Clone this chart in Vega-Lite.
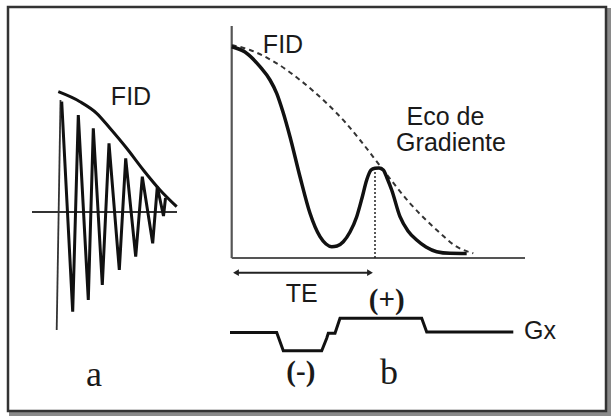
{
  "$schema": "https://vega.github.io/schema/vega-lite/v6.json",
  "width": 611,
  "height": 418,
  "padding": 0,
  "autosize": {"type": "fit", "contains": "padding"},
  "background": "white",
  "config": {"view": {"stroke": null}},
  "datasets": {
    "boxes": [
      {"k": "shadow", "x": 11, "y": 10, "x2": 609, "y2": 414},
      {"k": "frame", "x": 8, "y": 7, "x2": 606, "y2": 411}
    ],
    "rules": [
      {"k": "axisA", "x": 32, "y": 212, "x2": 177, "y2": 212},
      {"k": "thin", "x": 56.7, "y": 330, "x2": 60.5, "y2": 100},
      {"k": "axisB", "x": 231.7, "y": 26, "x2": 231.7, "y2": 258},
      {"k": "axisB", "x": 231.7, "y": 258, "x2": 525, "y2": 258},
      {"k": "dot", "x": 375, "y": 168, "x2": 375, "y2": 258},
      {"k": "arrow", "x": 237, "y": 272.7, "x2": 369, "y2": 272.7}
    ],
    "heads": [
      {"k": "left", "x": 236, "y": 272.7},
      {"k": "right", "x": 370, "y": 272.7}
    ],
    "lines": [
      {"s": "saw", "o": 1, "x": 61.7, "y": 101.7},
      {"s": "saw", "o": 2, "x": 72.7, "y": 311.7},
      {"s": "saw", "o": 3, "x": 78.3, "y": 115},
      {"s": "saw", "o": 4, "x": 88.3, "y": 300},
      {"s": "saw", "o": 5, "x": 93.3, "y": 128.3},
      {"s": "saw", "o": 6, "x": 102.3, "y": 285},
      {"s": "saw", "o": 7, "x": 109, "y": 143.3},
      {"s": "saw", "o": 8, "x": 119.3, "y": 270},
      {"s": "saw", "o": 9, "x": 125.7, "y": 158.3},
      {"s": "saw", "o": 10, "x": 135.7, "y": 256.7},
      {"s": "saw", "o": 11, "x": 142.3, "y": 176.7},
      {"s": "saw", "o": 12, "x": 152.7, "y": 243.3},
      {"s": "saw", "o": 13, "x": 157.3, "y": 186.7},
      {"s": "saw", "o": 14, "x": 163.5, "y": 216},
      {"s": "saw", "o": 15, "x": 165.5, "y": 198},
      {"s": "envA", "o": 1, "x": 58.3, "y": 91.7},
      {"s": "envA", "o": 2, "x": 80, "y": 101.7},
      {"s": "envA", "o": 3, "x": 96.7, "y": 113.3},
      {"s": "envA", "o": 4, "x": 110, "y": 128.3},
      {"s": "envA", "o": 5, "x": 126.7, "y": 148.3},
      {"s": "envA", "o": 6, "x": 143.3, "y": 170},
      {"s": "envA", "o": 7, "x": 160, "y": 190},
      {"s": "envA", "o": 8, "x": 176.7, "y": 206.7},
      {"s": "echo", "o": 1, "x": 231.7, "y": 46.7},
      {"s": "echo", "o": 2, "x": 245, "y": 52},
      {"s": "echo", "o": 3, "x": 260, "y": 66.7},
      {"s": "echo", "o": 4, "x": 270, "y": 80},
      {"s": "echo", "o": 5, "x": 276.7, "y": 93.3},
      {"s": "echo", "o": 6, "x": 283, "y": 112},
      {"s": "echo", "o": 7, "x": 290, "y": 136.7},
      {"s": "echo", "o": 8, "x": 300, "y": 176.7},
      {"s": "echo", "o": 9, "x": 310, "y": 213.3},
      {"s": "echo", "o": 10, "x": 320, "y": 236.7},
      {"s": "echo", "o": 11, "x": 326, "y": 244},
      {"s": "echo", "o": 12, "x": 331.7, "y": 246.7},
      {"s": "echo", "o": 13, "x": 337, "y": 246},
      {"s": "echo", "o": 14, "x": 343.3, "y": 241.7},
      {"s": "echo", "o": 15, "x": 350, "y": 232},
      {"s": "echo", "o": 16, "x": 356.7, "y": 216.7},
      {"s": "echo", "o": 17, "x": 362, "y": 198},
      {"s": "echo", "o": 18, "x": 366.7, "y": 180},
      {"s": "echo", "o": 19, "x": 371, "y": 170},
      {"s": "echo", "o": 20, "x": 375, "y": 168.3},
      {"s": "echo", "o": 21, "x": 379, "y": 168},
      {"s": "echo", "o": 22, "x": 383.3, "y": 170},
      {"s": "echo", "o": 23, "x": 387, "y": 178},
      {"s": "echo", "o": 24, "x": 391.7, "y": 190},
      {"s": "echo", "o": 25, "x": 400, "y": 216.7},
      {"s": "echo", "o": 26, "x": 408, "y": 231},
      {"s": "echo", "o": 27, "x": 416.7, "y": 240},
      {"s": "echo", "o": 28, "x": 426, "y": 247},
      {"s": "echo", "o": 29, "x": 436.7, "y": 251.7},
      {"s": "echo", "o": 30, "x": 450, "y": 253.3},
      {"s": "echo", "o": 31, "x": 466.7, "y": 253.5},
      {"s": "envB", "o": 1, "x": 231.7, "y": 45},
      {"s": "envB", "o": 2, "x": 250, "y": 50},
      {"s": "envB", "o": 3, "x": 276.7, "y": 63.3},
      {"s": "envB", "o": 4, "x": 300, "y": 80},
      {"s": "envB", "o": 5, "x": 326.7, "y": 103.3},
      {"s": "envB", "o": 6, "x": 345, "y": 122},
      {"s": "envB", "o": 7, "x": 360, "y": 140},
      {"s": "envB", "o": 8, "x": 383.3, "y": 170},
      {"s": "envB", "o": 9, "x": 410, "y": 203.3},
      {"s": "envB", "o": 10, "x": 436.7, "y": 230},
      {"s": "envB", "o": 11, "x": 456.7, "y": 246.7},
      {"s": "envB", "o": 12, "x": 473.3, "y": 253.3},
      {"s": "gx", "o": 1, "x": 230, "y": 332.5},
      {"s": "gx", "o": 2, "x": 276.7, "y": 332.5},
      {"s": "gx", "o": 3, "x": 283.3, "y": 350.7},
      {"s": "gx", "o": 4, "x": 321.7, "y": 350.7},
      {"s": "gx", "o": 5, "x": 326.7, "y": 338.3},
      {"s": "gx", "o": 6, "x": 328.3, "y": 333.3},
      {"s": "gx", "o": 7, "x": 335, "y": 333.3},
      {"s": "gx", "o": 8, "x": 340, "y": 318.3},
      {"s": "gx", "o": 9, "x": 421.7, "y": 318.3},
      {"s": "gx", "o": 10, "x": 426.7, "y": 332},
      {"s": "gx", "o": 11, "x": 513.3, "y": 332}
    ],
    "labels": [
      {"f": "sans", "t": "FID", "x": 131, "y": 97},
      {"f": "sans", "t": "FID", "x": 283, "y": 45},
      {"f": "sans", "t": "Eco de", "x": 445.5, "y": 116.5},
      {"f": "sans", "t": "Gradiente", "x": 451, "y": 143},
      {"f": "sans", "t": "TE", "x": 301.7, "y": 294},
      {"f": "sans", "t": "Gx", "x": 540, "y": 330.5},
      {"f": "paren", "t": "(+)", "x": 386.7, "y": 300},
      {"f": "paren", "t": "(-)", "x": 300.8, "y": 371.7},
      {"f": "serif", "t": "a", "x": 94, "y": 375},
      {"f": "serif", "t": "b", "x": 389, "y": 373}
    ]
  },
  "encoding": {
    "x": {"field": "x", "type": "quantitative", "scale": {"domain": [0, 611], "nice": false, "zero": false}, "axis": null},
    "y": {"field": "y", "type": "quantitative", "scale": {"domain": [0, 418], "nice": false, "zero": false, "reverse": true}, "axis": null}
  },
  "layer": [
    {
      "data": {"name": "boxes"},
      "transform": [{"filter": "datum.k === 'shadow'"}],
      "mark": {"type": "rect", "fill": null, "stroke": "#8a8a8a", "strokeWidth": 4},
      "encoding": {"x2": {"field": "x2"}, "y2": {"field": "y2"}}
    },
    {
      "data": {"name": "boxes"},
      "transform": [{"filter": "datum.k === 'frame'"}],
      "mark": {"type": "rect", "fill": "white", "stroke": "#333333", "strokeWidth": 2.5},
      "encoding": {"x2": {"field": "x2"}, "y2": {"field": "y2"}}
    },
    {
      "data": {"name": "rules"},
      "transform": [{"filter": "datum.k === 'axisA' || datum.k === 'thin'"}],
      "mark": {"type": "rule", "stroke": "#333333", "strokeWidth": 1.8},
      "encoding": {"x2": {"field": "x2"}, "y2": {"field": "y2"}}
    },
    {
      "data": {"name": "rules"},
      "transform": [{"filter": "datum.k === 'axisB'"}],
      "mark": {"type": "rule", "stroke": "#555555", "strokeWidth": 2.2},
      "encoding": {"x2": {"field": "x2"}, "y2": {"field": "y2"}}
    },
    {
      "data": {"name": "rules"},
      "transform": [{"filter": "datum.k === 'dot'"}],
      "mark": {"type": "rule", "stroke": "#222222", "strokeWidth": 1.5, "strokeDash": [2, 2]},
      "encoding": {"x2": {"field": "x2"}, "y2": {"field": "y2"}}
    },
    {
      "data": {"name": "rules"},
      "transform": [{"filter": "datum.k === 'arrow'"}],
      "mark": {"type": "rule", "stroke": "#222222", "strokeWidth": 2},
      "encoding": {"x2": {"field": "x2"}, "y2": {"field": "y2"}}
    },
    {
      "data": {"name": "heads"},
      "transform": [{"filter": "datum.k === 'left'"}],
      "mark": {"type": "point", "shape": "triangle-left", "filled": true, "fill": "#222222", "stroke": null, "size": 45, "opacity": 1}
    },
    {
      "data": {"name": "heads"},
      "transform": [{"filter": "datum.k === 'right'"}],
      "mark": {"type": "point", "shape": "triangle-right", "filled": true, "fill": "#222222", "stroke": null, "size": 45, "opacity": 1}
    },
    {
      "data": {"name": "lines"},
      "transform": [{"filter": "datum.s === 'envB'"}],
      "mark": {"type": "line", "stroke": "#333333", "strokeWidth": 2, "strokeDash": [5, 4], "interpolate": "monotone"},
      "encoding": {"order": {"field": "o", "type": "quantitative"}}
    },
    {
      "data": {"name": "lines"},
      "transform": [{"filter": "datum.s === 'saw'"}],
      "mark": {"type": "line", "stroke": "#111111", "strokeWidth": 3, "strokeJoin": "miter", "strokeMiterLimit": 4},
      "encoding": {"order": {"field": "o", "type": "quantitative"}}
    },
    {
      "data": {"name": "lines"},
      "transform": [{"filter": "datum.s === 'envA'"}],
      "mark": {"type": "line", "stroke": "#111111", "strokeWidth": 3, "interpolate": "monotone"},
      "encoding": {"order": {"field": "o", "type": "quantitative"}}
    },
    {
      "data": {"name": "lines"},
      "transform": [{"filter": "datum.s === 'echo'"}],
      "mark": {"type": "line", "stroke": "#111111", "strokeWidth": 3.5, "interpolate": "monotone"},
      "encoding": {"order": {"field": "o", "type": "quantitative"}}
    },
    {
      "data": {"name": "lines"},
      "transform": [{"filter": "datum.s === 'gx'"}],
      "mark": {"type": "line", "stroke": "#111111", "strokeWidth": 3},
      "encoding": {"order": {"field": "o", "type": "quantitative"}}
    },
    {
      "data": {"name": "labels"},
      "transform": [{"filter": "datum.f === 'sans'"}],
      "mark": {"type": "text", "font": "Liberation Sans", "fontSize": 25, "fill": "#1a1a1a", "align": "center", "baseline": "middle"},
      "encoding": {"text": {"field": "t"}}
    },
    {
      "data": {"name": "labels"},
      "transform": [{"filter": "datum.f === 'paren'"}],
      "mark": {"type": "text", "font": "Liberation Serif", "fontSize": 29, "fontWeight": "bold", "fill": "#1a1a1a", "align": "center", "baseline": "middle"},
      "encoding": {"text": {"field": "t"}}
    },
    {
      "data": {"name": "labels"},
      "transform": [{"filter": "datum.f === 'serif'"}],
      "mark": {"type": "text", "font": "Liberation Serif", "fontSize": 36, "fill": "#1a1a1a", "align": "center", "baseline": "middle"},
      "encoding": {"text": {"field": "t"}}
    }
  ]
}
